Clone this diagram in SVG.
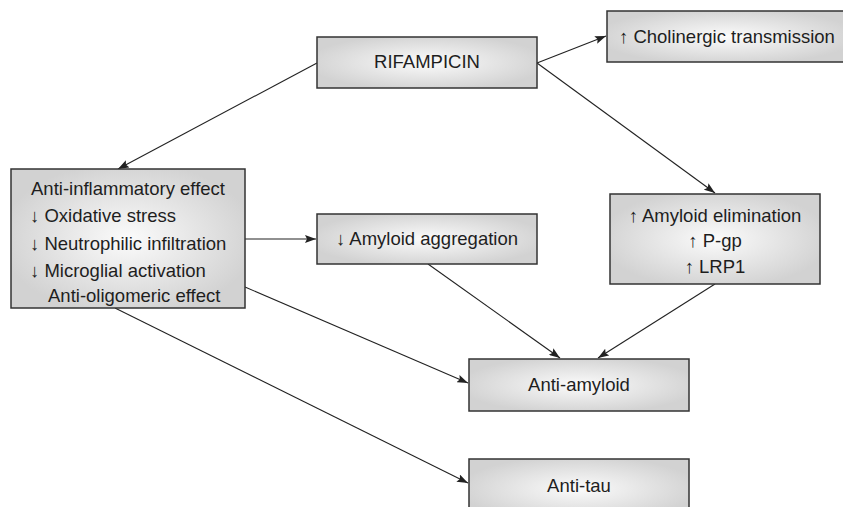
<svg xmlns="http://www.w3.org/2000/svg" width="843" height="507" viewBox="0 0 843 507">
<style>
.box{fill:url(#g);stroke:#333;stroke-width:1.5}
.t{font-family:"Liberation Sans",Arial,sans-serif;font-size:18.5px;fill:#1e1e1e}
.m{text-anchor:middle}
.c{fill:none;stroke:#222;stroke-width:1.1;marker-end:url(#ah)}
</style>
<defs>
<radialGradient id="g" cx="50%" cy="50%" r="55%">
<stop offset="0" stop-color="#fbfbfb"/>
<stop offset="1" stop-color="#d2d2d2"/>
</radialGradient>
<marker id="ah" markerUnits="userSpaceOnUse" markerWidth="11" markerHeight="8" refX="11" refY="4" orient="auto">
<path d="M0,0 L11,4 L0,8 L2,4 z" fill="#222"/>
</marker>
</defs>
<g id="connectors">
<line class="c" x1="317" y1="63" x2="118" y2="169"/>
<line class="c" x1="537" y1="63" x2="606" y2="36"/>
<line class="c" x1="537" y1="63" x2="715" y2="193"/>
<line class="c" x1="245" y1="239" x2="316" y2="239"/>
<line class="c" x1="428" y1="264" x2="560" y2="358"/>
<line class="c" x1="715" y1="284" x2="598" y2="358"/>
<line class="c" x1="245" y1="287" x2="468" y2="383"/>
<line class="c" x1="115" y1="308" x2="468" y2="483"/>
</g>
<g id="rifampicin">
<rect class="box" x="317" y="37" width="220" height="51"/>
<text class="t m" x="427" y="68">RIFAMPICIN</text>
</g>
<g id="cholinergic">
<rect class="box" x="607" y="11" width="240" height="51"/>
<text class="t" x="619" y="43">↑ Cholinergic transmission</text>
</g>
<g id="effects">
<rect class="box" x="11" y="169" width="234" height="139"/>
<text class="t" x="31" y="195">Anti-inflammatory effect</text>
<text class="t" x="30" y="222">↓ Oxidative stress</text>
<text class="t" x="30" y="250">↓ Neutrophilic infiltration</text>
<text class="t" x="30" y="277">↓ Microglial activation</text>
<text class="t" x="48" y="302">Anti-oligomeric effect</text>
</g>
<g id="aggregation">
<rect class="box" x="317" y="214" width="220" height="50"/>
<text class="t m" x="427" y="245">↓ Amyloid aggregation</text>
</g>
<g id="elimination">
<rect class="box" x="610" y="194" width="210" height="90"/>
<text class="t m" x="715" y="222">↑ Amyloid elimination</text>
<text class="t m" x="715" y="247">↑ P-gp</text>
<text class="t m" x="715" y="273">↑ LRP1</text>
</g>
<g id="antiamyloid">
<rect class="box" x="469" y="359" width="220" height="52"/>
<text class="t m" x="579" y="391">Anti-amyloid</text>
</g>
<g id="antitau">
<rect class="box" x="469" y="459" width="220" height="60"/>
<text class="t m" x="579" y="492">Anti-tau</text>
</g>
</svg>
